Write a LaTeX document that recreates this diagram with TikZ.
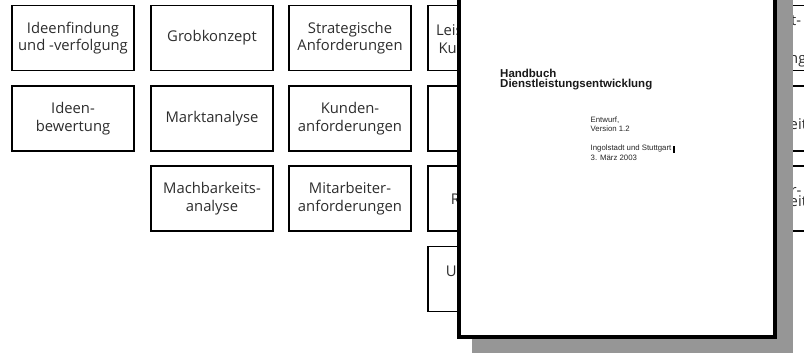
\documentclass[tikz,border=0pt]{standalone}
\usepackage{fontspec}
\setmainfont{Open Sans}
\newfontfamily\docfont{Liberation Sans}
\definecolor{shadowgray}{RGB}{150,150,150}
\definecolor{boxtext}{RGB}{45,45,45}
\begin{document}
\begin{tikzpicture}[x=1pt,y=-1pt,
  box/.style={draw=black, line width=1.4pt, fill=white, minimum width=122pt,
    minimum height=65pt, align=center, inner sep=0pt, text=boxtext,
    font=\fontsize{14.8}{17.5}\selectfont},
  frag/.style={inner sep=0pt, anchor=base west, text=boxtext,
    font=\fontsize{14.8}{17.5}\selectfont},
  doctitle/.style={inner sep=0pt, anchor=base west, text=black!90,
    font=\docfont\bfseries\fontsize{11.5}{11}\selectfont},
  docsmall/.style={inner sep=0pt, anchor=base west, text=black!85,
    font=\docfont\fontsize{7.8}{9}\selectfont}
]
\useasboundingbox (0,0) rectangle (804,353);
\clip (0,0) rectangle (804,353);
% column 1
\node[box] (b11) at (73,38) {Ideenfindung\\und -verfolgung};
\node[box] (b12) at (73,118.5) {Ideen-\\bewertung};
% column 2
\node[box] (b21) at (212,38) {Grobkonzept};
\node[box] (b22) at (212,118.5) {Marktanalyse};
\node[box] (b23) at (212,198.5) {Machbarkeits-\\analyse};
% column 3
\node[box] (b31) at (350,38) {Strategische\\Anforderungen};
\node[box] (b32) at (350,118.5) {Kunden-\\anforderungen};
\node[box] (b33) at (350,198.5) {Mitarbeiter-\\anforderungen};
% column 4 (mostly hidden)
\node[box] (b41) at (489,38) {};
\node[box] (b42) at (489,118.5) {};
\node[box] (b43) at (489,198.5) {};
\node[box] (b44) at (489,279) {};
\node[frag] (f41a) at (435.8,36) {Leis};
\node[frag] (f41b) at (438.3,54) {Ku};
\node[frag] (f43) at (450.7,204) {R};
\node[frag] (f44) at (445.7,276) {U};
% column 6 (mostly hidden)
\node[box] (b61) at (767,38) {};
\node[box] (b62) at (767,118.5) {};
\node[box] (b63) at (767,198.5) {};
\node[frag] (f61a) at (791,26) {t-};
\node[frag] (f61b) at (789,64) {ng};
\node[frag] (f62) at (789.5,129) {eit};
\node[frag] (f63a) at (790.5,195) {r-};
\node[frag] (f63b) at (789.5,206.5) {eit};
% document page with shadow
\fill[shadowgray] (472,-20) rectangle (793,370);
\node[draw=black, line width=4pt, fill=white, inner sep=0pt,
  minimum width=316.3pt, minimum height=357pt] (page) at (616.85,158.5) {};
\node[doctitle] (t1) at (500,77.3) {Handbuch};
\node[doctitle] (t2) at (500,88) {Dienstleistungsentwicklung};
\node[docsmall] (s1) at (590.5,122.3) {Entwurf,};
\node[docsmall] (s2) at (590.5,131.7) {Version 1.2};
\node[docsmall] (s3) at (590.5,150.3) {Ingolstadt und Stuttgart};
\node[docsmall] (s4) at (590.5,160) {3. März 2003};
\fill[black] (673,145.5) rectangle (675,152.5);
\end{tikzpicture}
\end{document}
